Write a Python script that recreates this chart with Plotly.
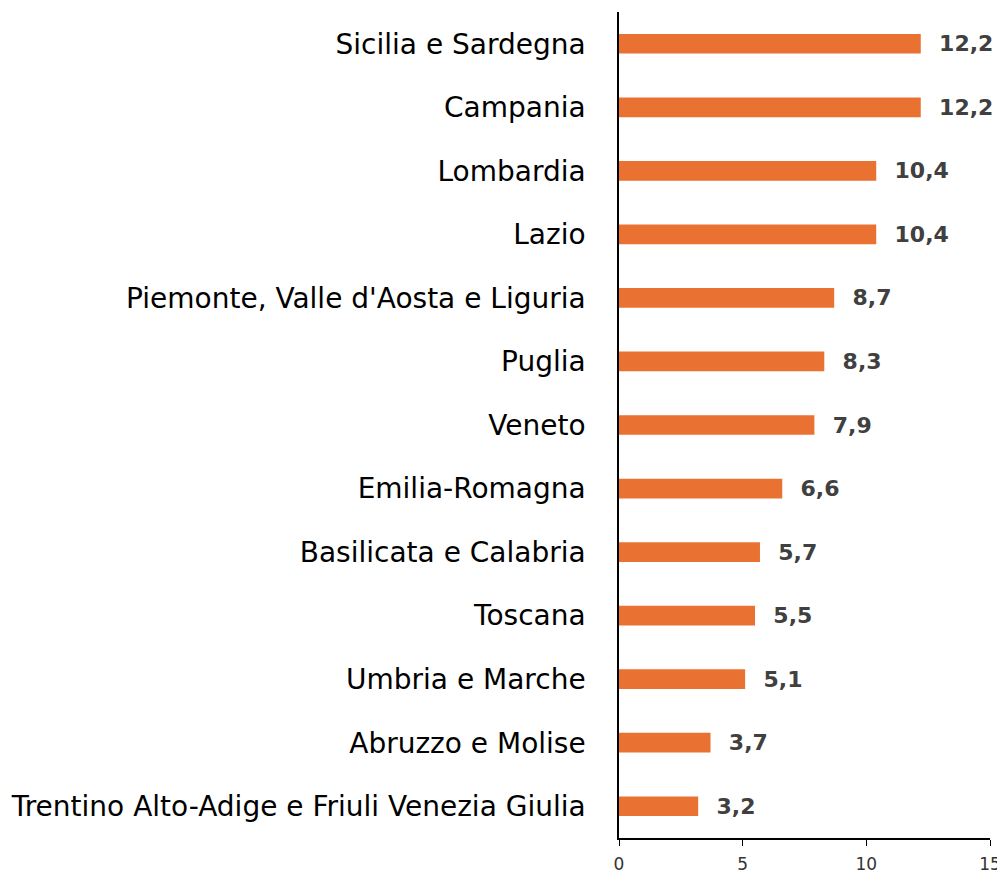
import plotly.graph_objects as go

regions = [
    "Sicilia e Sardegna",
    "Campania",
    "Lombardia",
    "Lazio",
    "Piemonte, Valle d'Aosta e Liguria",
    "Puglia",
    "Veneto",
    "Emilia-Romagna",
    "Basilicata e Calabria",
    "Toscana",
    "Umbria e Marche",
    "Abruzzo e Molise",
    "Trentino Alto-Adige e Friuli Venezia Giulia",
]
values = [12.2, 12.2, 10.4, 10.4, 8.7, 8.3, 7.9, 6.6, 5.7, 5.5, 5.1, 3.7, 3.2]
x_ticks = [0, 5, 10, 15]

fig = go.Figure(
    go.Bar(
        x=values,
        y=regions,
        orientation="h",
        marker=dict(color="#E97132", line=dict(width=0)),
        width=0.31,
        texttemplate="  %{x:.1f}",
        textposition="outside",
        constraintext="none",
        textfont=dict(family="DejaVu Sans, sans-serif", size=22, color="#404040", weight="bold"),
        cliponaxis=False,
    )
)

fig.update_layout(
    width=997,
    height=867,
    margin=dict(l=611, r=15, t=4, b=37),
    paper_bgcolor="white",
    plot_bgcolor="white",
    separators=", ",
    showlegend=False,
    font=dict(family="DejaVu Sans, sans-serif"),
)
fig.update_xaxes(
    range=[0, 15],
    tickvals=x_ticks,
    showgrid=False,
    zeroline=False,
    showline=True,
    linecolor="black",
    linewidth=1.5,
    ticks="outside",
    ticklen=6,
    tickcolor="black",
    tickfont=dict(size=17, color="#333333"),
    ticklabelstandoff=4,
    automargin=False,
)
fig.update_yaxes(
    categoryorder="array",
    categoryarray=regions[::-1],
    showgrid=False,
    zeroline=False,
    showline=True,
    linecolor="black",
    linewidth=1.5,
    ticks="",
    ticklabelstandoff=26,
    tickfont=dict(size=28, color="black"),
    automargin=False,
)

fig.write_html("out.html")
